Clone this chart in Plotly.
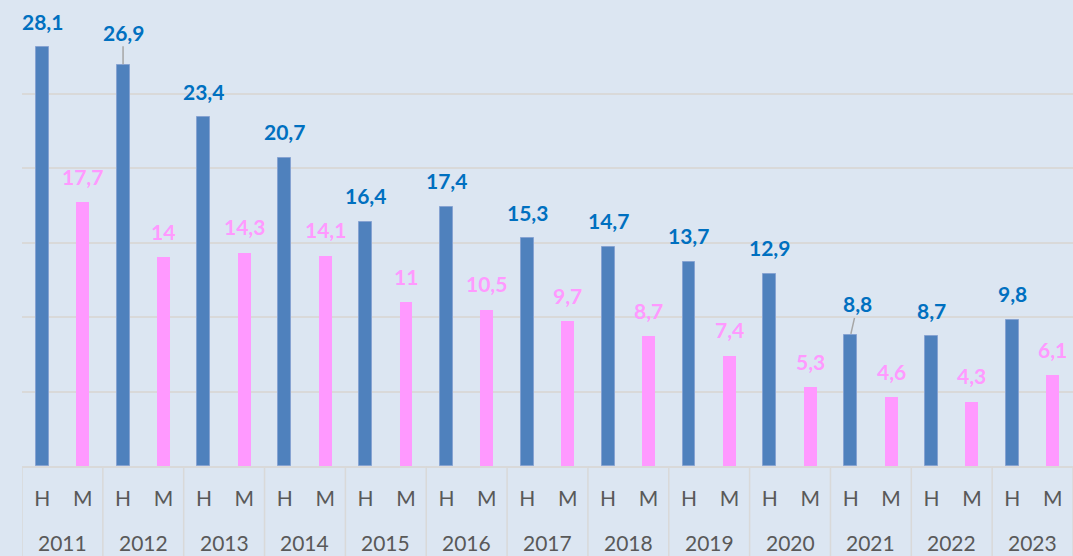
import plotly.graph_objects as go

years = ["2011", "2012", "2013", "2014", "2015", "2016", "2017", "2018", "2019", "2020", "2021", "2022", "2023"]
sexes = ["H", "M"]
h_values = [28.1, 26.9, 23.4, 20.7, 16.4, 17.4, 15.3, 14.7, 13.7, 12.9, 8.8, 8.7, 9.8]
m_values = [17.7, 14, 14.3, 14.1, 11, 10.5, 9.7, 8.7, 7.4, 5.3, 4.6, 4.3, 6.1]

BLUE = "#4F81BD"
PINK = "#FF99FF"
LABEL_BLUE = "#0070C0"
GRID = "#D9D9D9"
BG = "#DCE6F2"
TXT = "#595959"
FONT = "Lato"

def fmt(v):
    return str(int(v)) if float(v).is_integer() else f"{v:.1f}".replace(".", ",")

n = len(years)
h_x = [2 * i for i in range(n)]
m_x = [2 * i + 1 for i in range(n)]

fig = go.Figure()
fig.add_trace(go.Bar(x=h_x, y=h_values, width=0.32, marker=dict(color=BLUE, line=dict(color="#86A3D2", width=1)), name="H", hoverinfo="skip"))
fig.add_trace(go.Bar(x=m_x, y=m_values, width=0.32, marker=dict(color=PINK, line=dict(width=0)), name="M", hoverinfo="skip"))

annotations = []
# label offsets (pixels) — leader lines for a few labels
h_offsets = {1: (0, -33, True), 10: (7, -31, True)}
for i, v in enumerate(h_values):
    dx, dy, leader = h_offsets.get(i, (0, -26, False))
    annotations.append(dict(x=h_x[i], y=v, xref="x", yref="y", text=f"<b>{fmt(v)}</b>",
                            showarrow=True, ax=dx, ay=dy, arrowhead=0, arrowwidth=1.5,
                            arrowcolor="#A6A6A6" if leader else "rgba(0,0,0,0)", standoff=1,
                            font=dict(family=FONT, size=21, color=LABEL_BLUE)))
for i, v in enumerate(m_values):
    annotations.append(dict(x=m_x[i], y=v, xref="x", yref="y", text=f"<b>{fmt(v)}</b>",
                            showarrow=True, ax=0, ay=-26, arrowhead=0, arrowcolor="rgba(0,0,0,0)",
                            font=dict(family=FONT, size=21, color=PINK)))
for i, yr in enumerate(years):
    annotations.append(dict(x=2 * i + 0.5, y=-0.172, xref="x", yref="paper", text=yr, showarrow=False,
                            yanchor="middle", font=dict(family=FONT, size=21, color=TXT)))

shapes = []
for i in range(n + 1):
    shapes.append(dict(type="line", xref="x", yref="paper", x0=2 * i - 0.5, x1=2 * i - 0.5, y0=0, y1=-0.21,
                       line=dict(color=GRID, width=1.5)))

fig.update_layout(
    width=1073, height=556,
    margin=dict(l=22, r=0, t=19, b=90),
    paper_bgcolor=BG, plot_bgcolor=BG,
    showlegend=False, bargap=0,
    annotations=annotations, shapes=shapes,
    xaxis=dict(range=[-0.5, 2 * n - 0.5], tickmode="array",
               tickvals=h_x + m_x, ticktext=[sexes[0]] * n + [sexes[1]] * n,
               ticks="outside", ticklen=13, tickcolor="rgba(0,0,0,0)",
               tickfont=dict(family=FONT, size=21, color=TXT),
               showgrid=False, zeroline=False, showline=True, linecolor=GRID, linewidth=1.5),
    yaxis=dict(range=[0, 30], dtick=5, showticklabels=False, gridcolor=GRID, gridwidth=1.5,
               zeroline=False, showline=False),
)

fig.write_html("out.html", config={"displayModeBar": False},
               post_script="document.body.style.margin='0';document.body.style.background='#DCE6F2';")
